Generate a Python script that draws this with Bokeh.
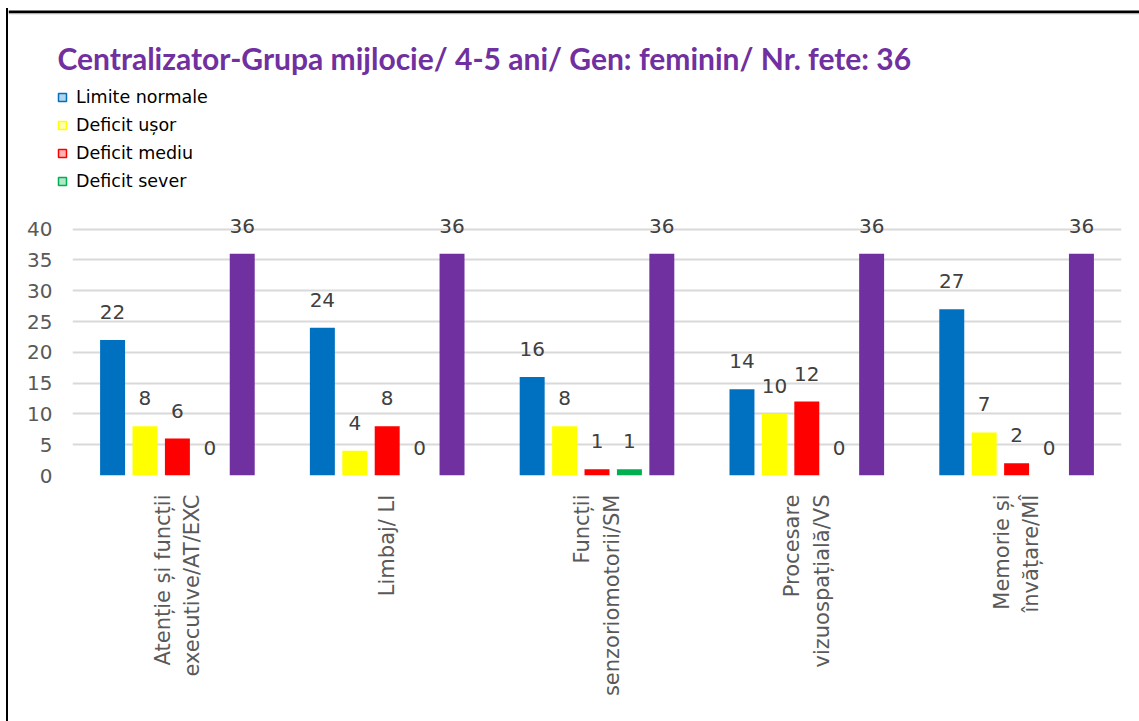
import math
from bokeh.plotting import figure
from bokeh.layouts import column
from bokeh.models import (FactorRange, Range1d, Legend, LegendItem, Label, ColumnDataSource,
                          FixedTicker, BoxAnnotation)
from bokeh.transform import dodge
from bokeh.embed import file_html
from bokeh.resources import INLINE
from bokeh.core.properties import value

# ---------------- data ----------------
title_text = "Centralizator-Grupa mijlocie/ 4-5 ani/ Gen: feminin/ Nr. fete: 36"
categories = [
    "Atenție și funcții\nexecutive/AT/EXC",
    "Limbaj/ LI",
    "Funcții\nsenzoriomotorii/SM",
    "Procesare\nvizuospațială/VS",
    "Memorie și\nînvățare/MÎ",
]
series_names = ["Limite normale", "Deficit ușor", "Deficit mediu", "Deficit sever", "Total"]
limite_normale = [22, 24, 16, 14, 27]
deficit_usor = [8, 4, 8, 10, 7]
deficit_mediu = [6, 8, 1, 12, 2]
deficit_sever = [0, 0, 1, 0, 0]
total = [36, 36, 36, 36, 36]
y_ticks = [0, 5, 10, 15, 20, 25, 30, 35, 40]

series_values = [limite_normale, deficit_usor, deficit_mediu, deficit_sever, total]
colors = ["#0070C0", "#FFFF00", "#FF0000", "#00B050", "#7030A0"]
in_legend = [True, True, True, True, False]
offsets = [-0.309, -0.1545, 0.0, 0.1545, 0.309]
bar_width = 0.119

FONT = "DejaVu Sans"
W = 1131
HEAD_H = 196
MAIN_H = 713 - HEAD_H

xr = FactorRange(factors=categories, range_padding=0)

# ---------------- main chart ----------------
p = figure(x_range=xr, y_range=(0, 44), title=None,
           width=W, height=MAIN_H,
           output_backend="svg", toolbar_location=None,
           min_border_left=64, min_border_right=18,
           min_border_top=0, min_border_bottom=246)
p.frame_align = False
p.outline_line_color = None
p.background_fill_color = "white"
p.border_fill_color = "white"

# ---------------- header (title + legend) ----------------
head = figure(x_range=xr, y_range=Range1d(0, 1), title=None,
              width=W, height=HEAD_H,
              output_backend="svg", toolbar_location=None,
              x_axis_location=None, y_axis_location=None, min_border=0)
head.frame_align = False
head.outline_line_color = None
head.xgrid.grid_line_color = None
head.ygrid.grid_line_color = None
head.background_fill_color = "white"
head.border_fill_color = "white"

legend_items = []
for name, vals, col, leg, off in zip(series_names, series_values, colors, in_legend, offsets):
    src = ColumnDataSource(dict(cat=categories, val=vals, lbl=[str(v) for v in vals]))
    xpos = dodge("cat", off, range=xr)
    p.vbar(x=xpos, top="val", width=bar_width, source=src,
           fill_color=col, line_color=None)
    p.text(x=xpos, y="val", text="lbl", source=src,
           text_align="center", text_baseline="alphabetic", y_offset=-28,
           text_font=value(FONT), text_font_size="20px", text_color="#404040")
    if leg:
        marker = head.scatter(x=xpos, y="val", source=src, marker="square", size=0,
                              fill_color=col, fill_alpha=0.3, line_color=col, line_width=1.5)
        legend_items.append(LegendItem(label=name, renderers=[marker]))

legend = Legend(items=legend_items, location=(44, 13),
                glyph_width=20, glyph_height=20, label_height=20,
                label_standoff=4, spacing=8, padding=0, margin=0,
                border_line_color=None, background_fill_alpha=0,
                label_text_font=FONT, label_text_font_size="17.5px",
                label_text_color="#000000")
head.add_layout(legend, "center")

head.add_layout(Label(x=49, y=HEAD_H - 49, x_units="screen", y_units="screen",
                     text=title_text, text_font="Lato", text_font_style="bold",
                     text_font_size="30px", text_color="#7030A0",
                     text_baseline="alphabetic"))

# top frame line of the picture
head.add_layout(BoxAnnotation(left=0, right=W, top=2, bottom=5,
                              left_units="canvas", right_units="canvas",
                              top_units="canvas", bottom_units="canvas",
                              fill_color="black", fill_alpha=1, line_color=None))
head.add_layout(BoxAnnotation(left=0, right=W, top=5, bottom=6,
                              left_units="canvas", right_units="canvas",
                              top_units="canvas", bottom_units="canvas",
                              fill_color="#D9D9D9", fill_alpha=1, line_color=None))

# ---------------- axes ----------------
p.yaxis.ticker = FixedTicker(ticks=y_ticks)
p.ygrid.ticker = FixedTicker(ticks=y_ticks)
p.ygrid.grid_line_color = "#D9D9D9"
p.ygrid.grid_line_width = 2
p.xgrid.grid_line_color = None
p.yaxis.axis_line_color = None
p.yaxis.major_tick_line_color = None
p.yaxis.minor_tick_line_color = None
p.yaxis.major_tick_out = 0
p.yaxis.major_label_standoff = 20
p.yaxis.major_label_text_font = FONT
p.yaxis.major_label_text_font_size = "20px"
p.yaxis.major_label_text_color = "#595959"

p.xaxis.axis_line_color = None
p.xaxis.major_tick_line_color = None
p.xaxis.minor_tick_line_color = None
p.xaxis.major_tick_out = 0
p.xaxis.major_label_standoff = 19
p.xaxis.major_label_orientation = math.pi / 2
p.xaxis.major_label_text_font = FONT
p.xaxis.major_label_text_font_size = "21px"
p.xaxis.major_label_text_color = "#595959"
p.xaxis.major_label_text_line_height = 1.23

layout = column(head, p, spacing=0, margin=(8, 0, 0, 8),
                styles={"box-shadow": "-2px 0px 0px 0px black"})

open("out.html", "w").write(file_html(layout, INLINE))
